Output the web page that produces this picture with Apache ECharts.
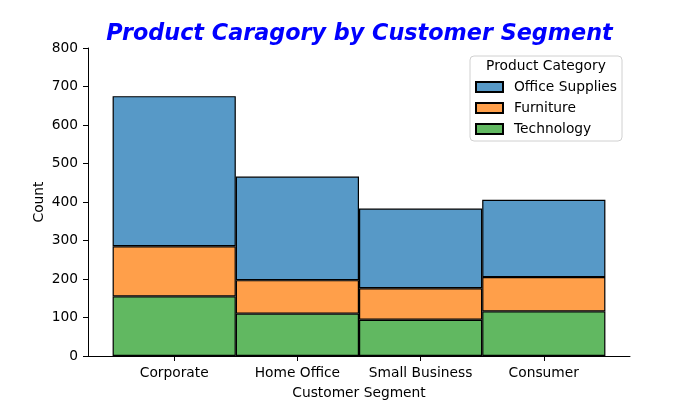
<!DOCTYPE html>
<html>
<head>
<meta charset="utf-8">
<script src="https://cdn.jsdelivr.net/npm/echarts@6/dist/echarts.min.js"></script>
<style>
  html, body { margin: 0; padding: 0; background: #fff; }
  #chart { width: 700px; height: 400px; }
</style>
</head>
<body>
<div id="chart"></div>
<script>
const segments = ['Corporate', 'Home Office', 'Small Business', 'Consumer']
const technology = [155, 110, 94, 116]
const furniture = [130, 87, 82, 89]
const officeSupplies = [390, 269, 207, 201]

const font = 'DejaVu Sans'
const fs = 13.8
const chart = echarts.init(document.getElementById('chart'))

// grid 0 draws the visible axes (value x axis padded like matplotlib),
// grid 1 holds the stacked bars on a category axis covering x = -0.5 .. 3.5
const bar = (name, data, color) => ({
  name, type: 'bar', stack: 'seg', data, barWidth: '100%', xAxisIndex: 1, yAxisIndex: 1,
  itemStyle: { color, borderColor: '#000', borderWidth: 1.2 },
})

chart.setOption({
  animation: false,
  textStyle: { fontFamily: font },
  grid: [
    { left: 88, right: 70, top: 48, bottom: 44, outerBoundsMode: 'none', containLabel: false },
    { left: 112.6, right: 94.6, top: 48, bottom: 44, outerBoundsMode: 'none', containLabel: false },
  ],
  graphic: [
    { type: 'text', x: 359.5, y: 23, z: 100, style: { text: 'Product Caragory by Customer Segment', fill: '#0000ff', font: 'italic bold 22.3px "DejaVu Sans"', textAlign: 'center' } },
    { type: 'text', x: 546, y: 59, z: 100, style: { text: 'Product Category', fill: '#000', font: fs + 'px "DejaVu Sans"', textAlign: 'center' } },
  ],
  legend: {
    orient: 'vertical', left: 470, top: 56,
    data: ['Office Supplies', 'Furniture', 'Technology'],
    icon: 'rect',
    backgroundColor: '#fff', borderColor: '#d0d0d0', borderWidth: 1, borderRadius: 4,
    padding: [24, 5, 5, 5], itemGap: 7, itemWidth: 27, itemHeight: 10,
    textStyle: { fontFamily: font, fontSize: fs, color: '#000', padding: [0, 0, 0, 6] },
  },
  xAxis: [
    {
      type: 'value', min: -0.7, max: 3.7, gridIndex: 0,
      name: 'Customer Segment', nameLocation: 'middle', nameGap: 30,
      nameTextStyle: { fontFamily: font, fontSize: fs, color: '#000' },
      axisLine: { show: true, lineStyle: { color: '#000', width: 1 } },
      axisTick: { show: true, length: 5, customValues: [0, 1, 2, 3], lineStyle: { color: '#000' } },
      axisLabel: { customValues: [0, 1, 2, 3], formatter: v => segments[Math.round(v)], color: '#000', fontSize: fs, margin: 10 },
      splitLine: { show: false },
    },
    {
      type: 'category', data: segments, gridIndex: 1, boundaryGap: true,
      axisLine: { show: false }, axisTick: { show: false }, axisLabel: { show: false },
    },
  ],
  yAxis: [
    {
      type: 'value', min: 0, max: 800, interval: 100, gridIndex: 0,
      name: 'Count', nameLocation: 'middle', nameGap: 42, nameMoveOverlap: false,
      nameTextStyle: { fontFamily: font, fontSize: fs, color: '#000' },
      axisLine: { show: true, onZero: false, lineStyle: { color: '#000', width: 1 } },
      axisTick: { show: true, length: 5, lineStyle: { color: '#000' } },
      axisLabel: { color: '#000', fontSize: fs, margin: 10 },
      splitLine: { show: false },
    },
    {
      type: 'value', min: 0, max: 800, gridIndex: 1,
      axisLine: { show: false }, axisTick: { show: false }, axisLabel: { show: false }, splitLine: { show: false },
    },
  ],
  series: [
    bar('Technology', technology, '#61b861'),
    bar('Furniture', furniture, '#ff9f4a'),
    bar('Office Supplies', officeSupplies, '#5799c7'),
  ],
})
</script>
</body>
</html>
